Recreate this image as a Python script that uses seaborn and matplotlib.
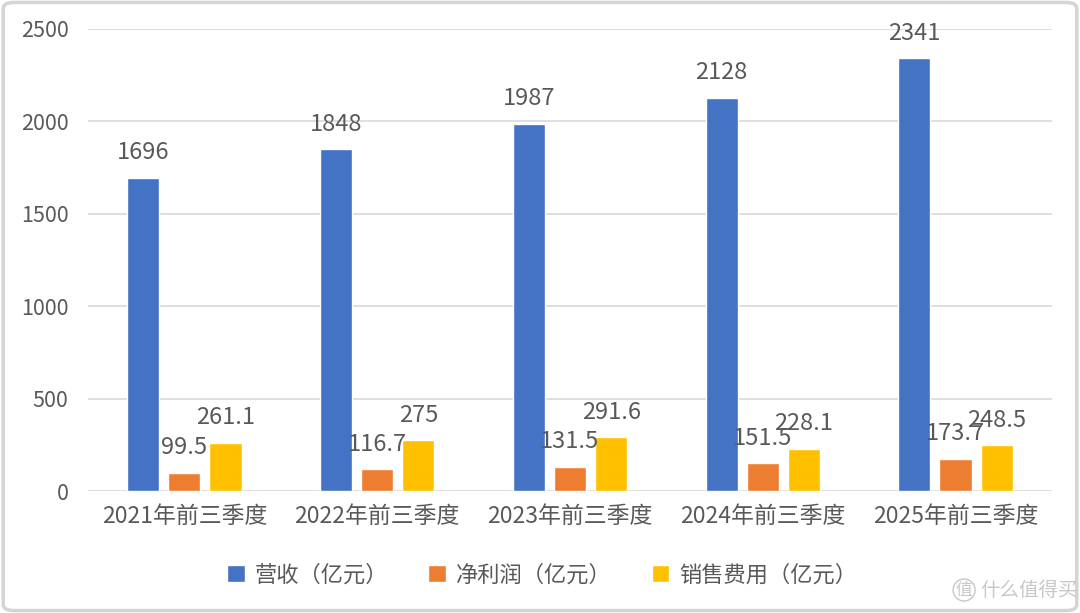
import matplotlib
matplotlib.use("Agg")
import matplotlib.pyplot as plt
from matplotlib.patches import FancyBboxPatch
import seaborn as sns
import pandas as pd

categories = ['2021年前三季度', '2022年前三季度', '2023年前三季度', '2024年前三季度', '2025年前三季度']
series_names = ['营收（亿元）', '净利润（亿元）', '销售费用（亿元）']
revenue = [1696, 1848, 1987, 2128, 2341]
net_profit = [99.5, 116.7, 131.5, 151.5, 173.7]
sales_expense = [261.1, 275, 291.6, 228.1, 248.5]
y_ticks = [0, 500, 1000, 1500, 2000, 2500]
colors = ['#4472C4', '#ED7D31', '#FFC000']

rows = []
for name, vals in zip(series_names, [revenue, net_profit, sales_expense]):
    for c, v in zip(categories, vals):
        rows.append({'category': c, 'series': name, 'value': v})
df = pd.DataFrame(rows)

sns.set_theme(style='white')
plt.rcParams['font.family'] = ['Noto Sans CJK SC', 'DejaVu Sans']
text_color = '#595959'

fig = plt.figure(figsize=(10.8, 6.13), dpi=100)
ax = fig.add_axes([0.0815, 0.199, 0.8925, 0.7537])

sns.barplot(data=df, x='category', y='value', hue='series', order=categories,
            hue_order=series_names, palette=colors, width=0.64, gap=0.22,
            saturation=1, ax=ax, legend=True, errorbar=None)

ax.set_xlim(-0.5, 4.5)
ax.set_ylim(0, 2500)
ax.set_yticks(y_ticks)
ax.set_yticklabels([str(t) for t in y_ticks])
ax.grid(axis='y', color='#d9d9d9', linewidth=1.2)
ax.set_axisbelow(True)
for s in ax.spines.values():
    s.set_visible(False)
ax.tick_params(axis='y', length=0, pad=14, labelsize=15.5, labelcolor=text_color)
ax.tick_params(axis='x', length=0, pad=10, labelsize=16.5, labelcolor=text_color)
ax.set_xlabel('')
ax.set_ylabel('')

for cont in ax.containers:
    for bar in cont.patches:
        h = bar.get_height()
        ax.annotate('{:g}'.format(h), (bar.get_x() + bar.get_width() / 2, h),
                    xytext=(0, 18), textcoords='offset points',
                    ha='center', va='center', fontsize=17, color=text_color)

handles, labels = ax.get_legend_handles_labels()
ax.legend_.remove()
fig.legend(handles, labels, loc='center', bbox_to_anchor=(0.502, 1 - 575 / 613),
           ncol=3, frameon=False, fontsize=16, labelcolor=text_color,
           handlelength=0.8, handleheight=0.8, handletextpad=0.45, columnspacing=1.8)

# watermark
fig.text(0.885, 1 - 590 / 613, '值', fontsize=12, color='#c8c8c8', ha='left', va='center',
         bbox=dict(boxstyle='circle,pad=0.15', fc='none', ec='#c8c8c8', lw=1))
fig.text(0.908, 1 - 590 / 613, '什么值得买', fontsize=14, color='#c8c8c8', ha='left', va='center')

# outer frame
frame = FancyBboxPatch((0.003, 0.004), 0.994, 0.992, boxstyle='round,pad=0,rounding_size=0.01',
                       transform=fig.transFigure, fill=False, ec='#d4d4d4', lw=2.5)
fig.patches.append(frame)

fig.savefig('out.png', dpi=100)
